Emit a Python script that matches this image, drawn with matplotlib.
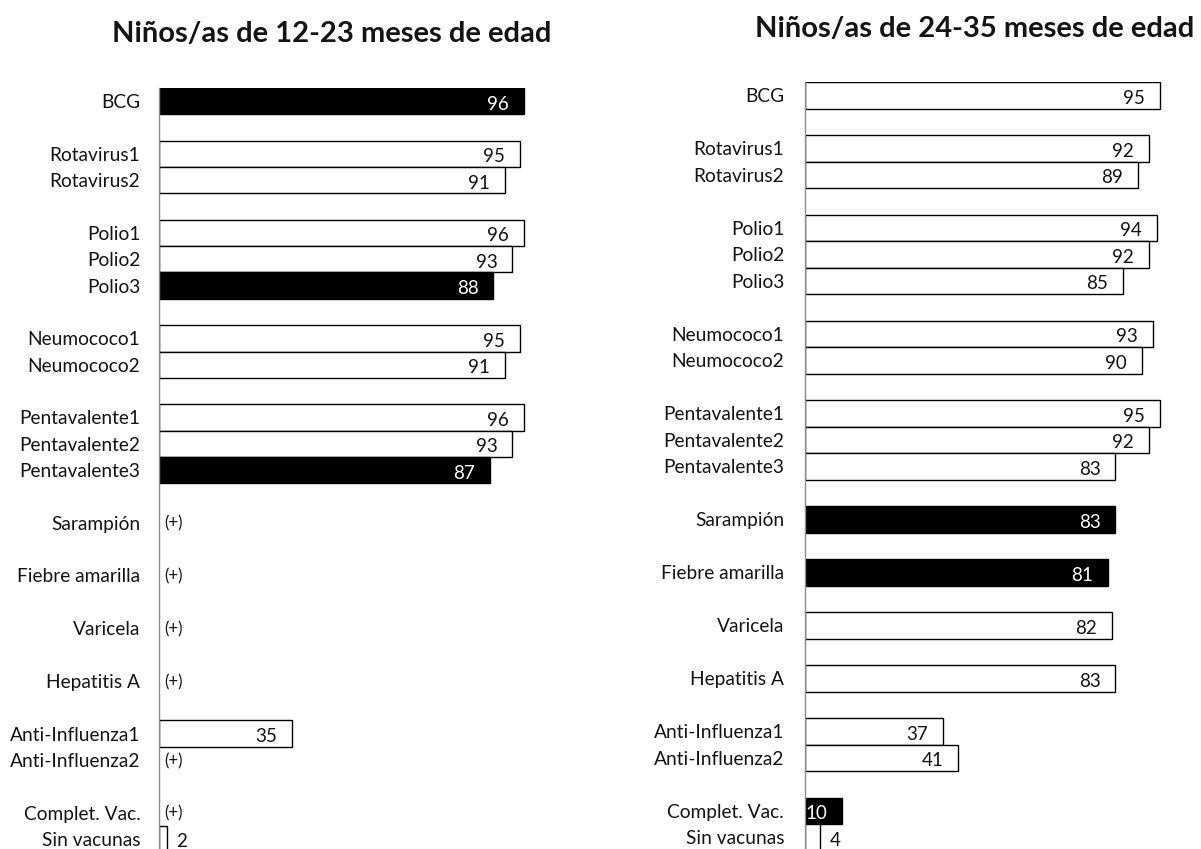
import matplotlib
matplotlib.use("Agg")
import matplotlib.pyplot as plt

plt.rcParams['font.family'] = ['Lato', 'DejaVu Sans']

# ---------------- data ----------------
categories = ["BCG", "", "Rotavirus1", "Rotavirus2", "", "Polio1", "Polio2", "Polio3", "",
              "Neumococo1", "Neumococo2", "", "Pentavalente1", "Pentavalente2", "Pentavalente3", "",
              "Sarampión", "", "Fiebre amarilla", "", "Varicela", "", "Hepatitis A", "",
              "Anti-Influenza1", "Anti-Influenza2", "", "Complet. Vac.", "Sin vacunas"]

# None on a named row = "(+)" (value not shown); None on a blank row = spacer
values_12_23 = [96, None, 95, 91, None, 96, 93, 88, None,
                95, 91, None, 96, 93, 87, None,
                None, None, None, None, None, None, None, None,
                35, None, None, None, 2]
values_24_35 = [95, None, 92, 89, None, 94, 92, 85, None,
                93, 90, None, 95, 92, 83, None,
                83, None, 81, None, 82, None, 83, None,
                37, 41, None, 10, 4]

highlight_12_23 = ["BCG", "Polio3", "Pentavalente3"]
highlight_24_35 = ["Sarampión", "Fiebre amarilla", "Complet. Vac."]

title_12_23 = "Niños/as de 12-23 meses de edad"
title_24_35 = "Niños/as de 24-35 meses de edad"

# ---------------- figure ----------------
W, H = 1201, 849
fig = plt.figure(figsize=(W / 100, H / 100), dpi=100)
TEXT = "#141414"


def panel(x0, top, width_px, spacing, values, highlight, pad):
    ax = fig.add_axes([x0 / W, 0, width_px / W, (H - top) / H])
    rows = list(range(len(categories)))
    bottom_row = -0.5 + (H - top) / spacing
    for r, (name, v) in enumerate(zip(categories, values)):
        if name == "":
            continue
        if v is None:
            ax.annotate("(+)", xy=(0, r), xytext=(5, -1), textcoords="offset pixels",
                        ha="left", va="center", fontsize=12, color=TEXT)
            continue
        dark = name in highlight
        ax.barh(r, v, height=1.0, color="black" if dark else "white",
                edgecolor="black", linewidth=1.0, zorder=2)
        if v < 5:
            ax.annotate(str(v), xy=(v, r), xytext=(10, -3), textcoords="offset pixels",
                        ha="left", va="center", fontsize=13.5, color=TEXT)
        else:
            ax.annotate(str(v), xy=(v, r), xytext=(-15, -3), textcoords="offset pixels",
                        ha="right", va="center", fontsize=13.5,
                        color="white" if dark else TEXT, zorder=3)
    ax.set_xlim(0, 100)
    ax.set_ylim(bottom_row, -0.5)
    ax.set_yticks(rows)
    ax.set_yticklabels(categories, fontsize=13.8, color=TEXT)
    ax.tick_params(axis="y", length=0, pad=pad)
    ax.set_xticks([])
    for s in ("top", "right", "bottom"):
        ax.spines[s].set_visible(False)
    ax.spines["left"].set_color("#8c8c8c")
    ax.spines["left"].set_linewidth(1.0)
    ax.spines["left"].set_zorder(4)
    ax.patch.set_alpha(0)
    return ax


panel(159, 88, 380, 26.35, values_12_23, highlight_12_23, pad=13.5)
panel(805, 82, 374, 26.5, values_24_35, highlight_24_35, pad=15)

fig.text(112 / W, 1 - 42 / H, title_12_23, ha="left", va="baseline",
         fontsize=21, fontweight="bold", color=TEXT)
fig.text(755 / W, 1 - 37 / H, title_24_35, ha="left", va="baseline",
         fontsize=21, fontweight="bold", color=TEXT)

fig.savefig("out.png", dpi=100, facecolor="white")
